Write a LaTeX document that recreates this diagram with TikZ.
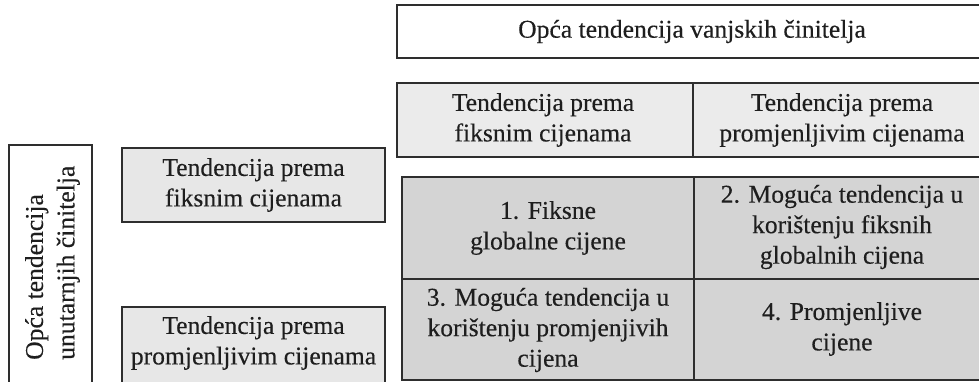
\documentclass[tikz,border=0pt]{standalone}
\usepackage{fontspec}
\setmainfont{Liberation Serif}[FakeBold=0.3]
\definecolor{rowgray}{HTML}{EBEBEB}
\definecolor{sidegray}{HTML}{E7E7E7}
\definecolor{cellgray}{HTML}{D4D4D4}
\definecolor{edgecol}{HTML}{2E2E2E}
\definecolor{textcol}{HTML}{1E1E1E}
\tikzset{
  txt/.style={font=\fontsize{25.6}{30.5}\selectfont, text=textcol, align=center, inner sep=0pt},
  sidetxt/.style={font=\fontsize{25.6}{31.5}\selectfont, text=textcol, align=left, inner sep=0pt, rotate=90},
  thinbox/.style={draw=edgecol, line width=1.3pt},
  thickbox/.style={draw=edgecol, line width=2.8pt}
}
\begin{document}
\begin{tikzpicture}[x=1pt,y=-1pt]
\clip (0,0) rectangle (979,381);
\fill[white] (0,0) rectangle (979,381);
% top box
\draw[thinbox, fill=white] (397,5) rectangle (1000,58);
\node[txt] (top) at (692,31.5) {Opća tendencija vanjskih činitelja};
% second row
\draw[thinbox, fill=rowgray] (397,83) rectangle (693,157);
\draw[thinbox, fill=rowgray] (693,83) rectangle (1000,157);
\node[txt] (hfix) at (543,120) {Tendencija prema\\fiksnim cijenama};
\node[txt] (hvar) at (842,120) {Tendencija prema\\promjenljivim cijenama};
% grid
\draw[thickbox, fill=cellgray] (402,177) rectangle (1000,380);
\draw[thickbox] (694,177) -- (694,380);
\draw[thickbox] (402,279) -- (1000,279);
\node[txt] (c1) at (548,228) {1. Fiksne\\globalne cijene};
\node[txt] (c2) at (842,227) {2. Moguća tendencija u\\korištenju fiksnih\\globalnih cijena};
\node[txt] (c3) at (548,330) {3. Moguća tendencija u\\korištenju promjenjivih\\cijena};
\node[txt] (c4) at (842,329) {4. Promjenljive\\cijene};
% left side
\draw[thinbox, fill=white] (9,145) rectangle (92,400);
\node[sidetxt, anchor=west] (side) at (52.5,360) {Opća tendencija\\unutarnjih činitelja};
\draw[thinbox, fill=sidegray] (122,148) rectangle (385,222);
\draw[thinbox, fill=sidegray] (122,307) rectangle (385,383);
\node[txt] (vfix) at (253.5,185) {Tendencija prema\\fiksnim cijenama};
\node[txt] (vvar) at (253.5,343) {Tendencija prema\\promjenljivim cijenama};
\end{tikzpicture}
\end{document}
